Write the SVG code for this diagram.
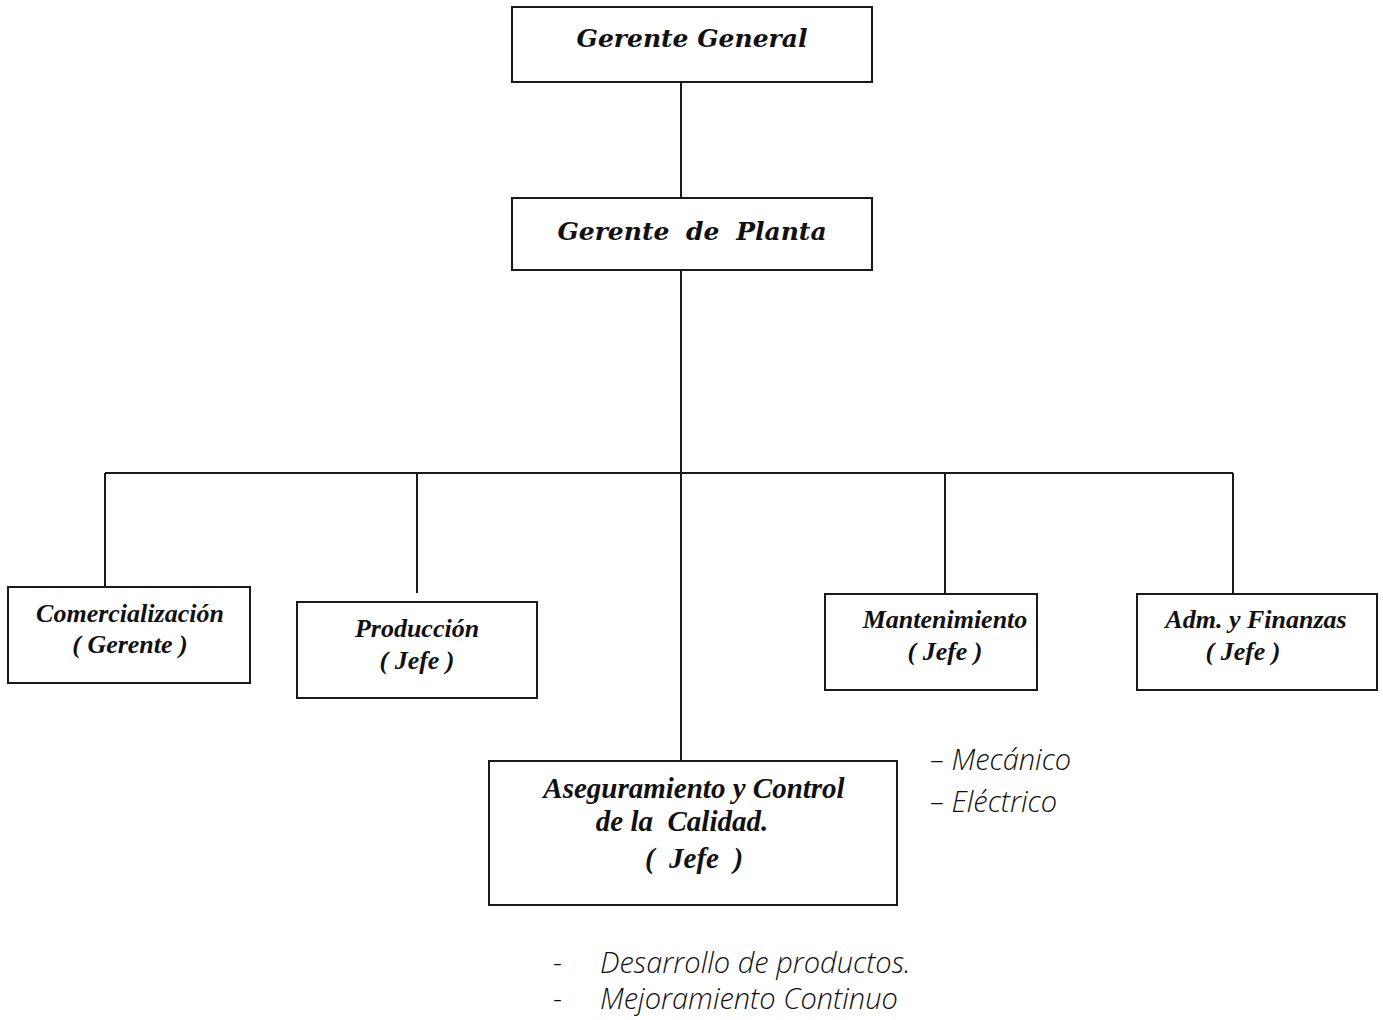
<svg xmlns="http://www.w3.org/2000/svg" width="1383" height="1020" viewBox="0 0 1383 1020">
<style>
.box{fill:#fff;stroke:#1a1a1a;stroke-width:2}
.ln{stroke:#1a1a1a;stroke-width:2;fill:none}
.t{font-family:"Liberation Serif","Times New Roman",serif;font-weight:bold;font-style:italic;fill:#111;text-anchor:middle}
.h{font-family:"DejaVu Serif","Liberation Serif",serif;font-weight:bold;font-style:italic;fill:#111;text-anchor:middle}
.n{font-family:"Open Sans","Liberation Sans",sans-serif;font-style:italic;font-weight:300;fill:#111}
</style>
<rect width="1383" height="1020" fill="#fff"/>
<g id="connectors">
<line class="ln" x1="681" y1="82" x2="681" y2="198"/>
<line class="ln" x1="681" y1="270" x2="681" y2="761"/>
<line class="ln" x1="105" y1="473" x2="1233" y2="473"/>
<line class="ln" x1="105" y1="473" x2="105" y2="587"/>
<line class="ln" x1="417" y1="473" x2="417" y2="593"/>
<line class="ln" x1="945" y1="473" x2="945" y2="594"/>
<line class="ln" x1="1233" y1="473" x2="1233" y2="594"/>
</g>
<g id="gerente-general">
<rect class="box" x="512" y="7" width="360" height="75"/>
<text class="h" x="692" y="47" font-size="25">Gerente General</text>
</g>
<g id="gerente-planta">
<rect class="box" x="512" y="198" width="360" height="72"/>
<text class="h" x="692" y="240" font-size="25" word-spacing="8">Gerente de Planta</text>
</g>
<g id="comercializacion">
<rect class="box" x="8" y="587" width="242" height="96"/>
<text class="t" x="130" y="622" font-size="26">Comercialización</text>
<text class="t" x="130" y="653" font-size="26">( Gerente )</text>
</g>
<g id="produccion">
<rect class="box" x="297" y="602" width="240" height="96"/>
<text class="t" x="417" y="637" font-size="26">Producción</text>
<text class="t" x="417" y="669" font-size="26">( Jefe )</text>
</g>
<g id="mantenimiento">
<rect class="box" x="825" y="594" width="212" height="96"/>
<text class="t" x="945" y="628" font-size="26">Mantenimiento</text>
<text class="t" x="945" y="660" font-size="26">( Jefe )</text>
</g>
<g id="adm-finanzas">
<rect class="box" x="1137" y="594" width="240" height="96"/>
<text class="t" x="1256" y="628" font-size="26">Adm. y Finanzas</text>
<text class="t" x="1243" y="660" font-size="26">( Jefe )</text>
</g>
<g id="aseguramiento">
<rect class="box" x="489" y="761" width="408" height="144"/>
<text class="t" x="694" y="798" font-size="29">Aseguramiento y Control</text>
<text class="t" x="682" y="831" font-size="29" xml:space="preserve">de la  Calidad.</text>
<text class="t" x="694" y="868" font-size="29" xml:space="preserve">(  Jefe  )</text>
</g>
<g id="notas">
<text class="n" x="930" y="770" font-size="29">– Mecánico</text>
<text class="n" x="930" y="812" font-size="29">– Eléctrico</text>
<text class="n" x="553" y="973" font-size="29">-</text>
<text class="n" x="600" y="973" font-size="29">Desarrollo de productos.</text>
<text class="n" x="553" y="1009" font-size="29">-</text>
<text class="n" x="600" y="1009" font-size="29">Mejoramiento Continuo</text>
</g>
</svg>
